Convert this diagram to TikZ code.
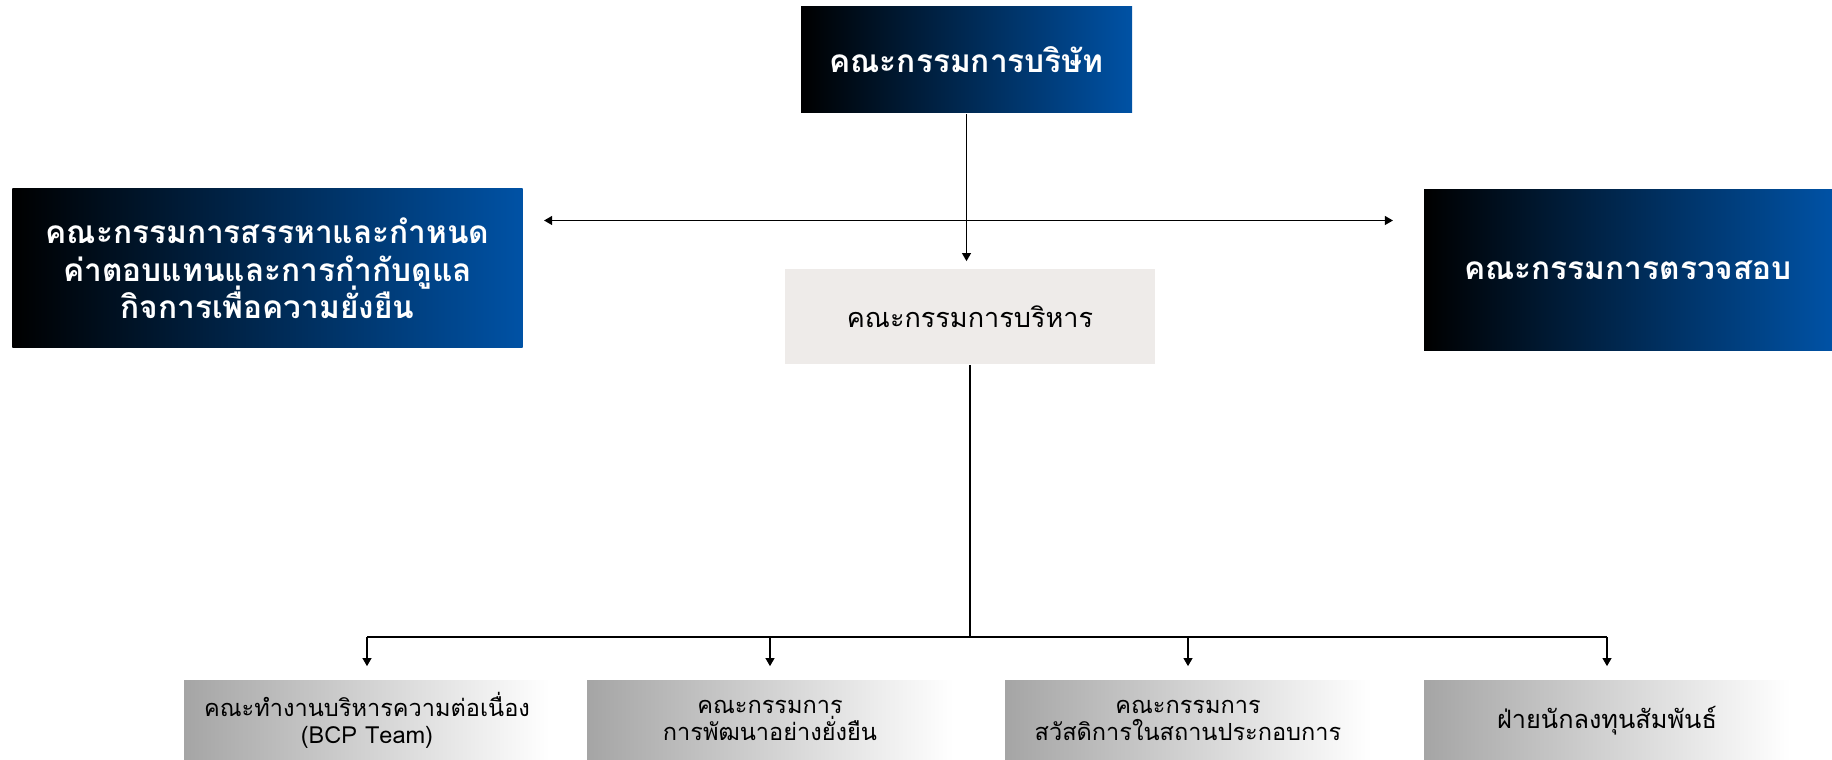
\documentclass[tikz,border=0pt]{standalone}
\usepackage{fontspec}
\newfontfamily\thaifont[Script=Thai]{Loma}
\usepackage{tikz}
\usetikzlibrary{arrows.meta}

\definecolor{boardblue}{RGB}{0,82,165}
\definecolor{execgray}{RGB}{238,235,233}
\definecolor{subgray}{RGB}{165,165,165}

\begin{document}
\begin{tikzpicture}[
        >={Triangle[length=2.3pt,width=2.5pt]},
        darkbox/.style={left color=black, right color=boardblue, text=white, align=center, inner sep=0pt,
                        font={\thaifont\bfseries\fontsize{9}{10.7}\selectfont\lineskiplimit=-100pt\relax}},
        execbox/.style={fill=execgray, align=center, inner sep=0pt, minimum width=3.70cm, minimum height=0.95cm,
                        font=\thaifont\fontsize{7.7}{9}\selectfont},
        subbox/.style={left color=subgray, right color=white, align=center, inner sep=0pt,
                       minimum width=3.66cm, minimum height=0.79cm,
                       font={\thaifont\fontsize{6.7}{7.7}\selectfont\lineskiplimit=-100pt\relax}},
        line width=0.45pt]
                \useasboundingbox (0,0) rectangle (18.32,-7.60);

                \node[darkbox, minimum width=3.31cm, minimum height=1.06cm] (board) at (9.665,-0.60) {คณะกรรมการบริษัท};
                \node[darkbox, minimum width=5.10cm, minimum height=1.59cm] (nomcom) at (2.675,-2.685)
                        {คณะกรรมการสรรหาและกำหนด\\ค่าตอบแทนและการกำกับดูแล\\กิจการเพื่อความยั่งยืน};
                \node[darkbox, minimum width=4.08cm, minimum height=1.61cm] (audit) at (16.28,-2.705) {คณะกรรมการตรวจสอบ};
                \node[execbox] (exec) at (9.70,-3.165) {คณะกรรมการบริหาร};

                \node[subbox] (bcp) at (3.67,-7.205) {คณะทำงานบริหารความต่อเนื่อง\\(BCP Team)};
                \node[subbox] (sd) at (7.70,-7.205) {คณะกรรมการ\\การพัฒนาอย่างยั่งยืน};
                \node[subbox] (welfare) at (11.88,-7.205) {คณะกรรมการ\\สวัสดิการในสถานประกอบการ};
                \node[subbox, font={\thaifont\fontsize{7.2}{7.7}\selectfont}] (ir) at (16.07,-7.205) {ฝ่ายนักลงทุนสัมพันธ์};

                \coordinate (nomarrow) at (5.44,-2.205);
                \coordinate (auditarrow) at (13.93,-2.205);
                \coordinate (bus) at (9.70,-6.37);

                \draw[->, shorten >=0.07cm] (board.south) -- (board.south |- exec.north);
                \draw[<->] (nomarrow) -- (auditarrow);

                \draw (exec.south) -- (exec.south |- bus);
                \draw (bcp.north |- bus) -- (ir.north |- bus);
                \foreach \n in {bcp,sd,welfare,ir}
                        \draw[->, shorten >=0.14cm] (\n.north |- bus) -- (\n.north);
            \end{tikzpicture}
\end{document}
